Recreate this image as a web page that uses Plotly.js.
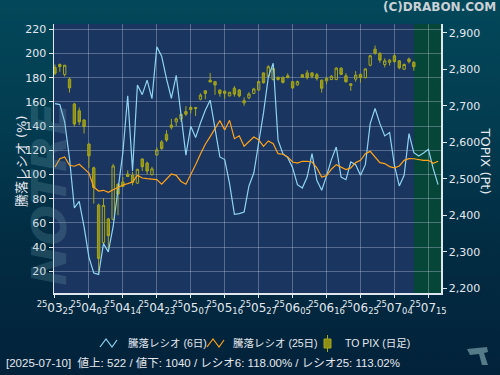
<!DOCTYPE html>
<html><head><meta charset="utf-8">
<script src="https://cdn.plot.ly/plotly-3.0.1.min.js"></script>
<style>
html,body{margin:0;padding:0;}
body{width:500px;height:375px;overflow:hidden;
background:linear-gradient(180deg,#03485a 0%,#033b50 35%,#022c42 65%,#02223a 100%);}
#chart{width:500px;height:375px;}
</style></head><body><div id="chart"></div>
<script>
// TOPIX daily candles (trading days 2025-03-25 .. 2025-07-10)
const topixOpen  = [2805,2813,2786,2773,2705,2686,2661,2595,2530,2428,2325,2390,2389,2485,2491,2513,2510,2488,2554,2543,2511,2565,2601,2622,2647,2656,2664,2684,2695,2695,2718,2741,2770,2766,2743,2740,2727,2748,2743,2714,2722,2734,2743,2790,2781,2772,2778,2778,2782,2766,2757,2785,2790,2790,2785,2770,2768,2772,2772,2803,2782,2760,2773,2786,2777,2811,2855,2844,2813,2819,2837,2823,2800,2828,2819];
const topixHigh  = [2813,2816,2812,2778,2708,2695,2663,2597,2533,2432,2447,2393,2541,2487,2505,2523,2519,2527,2556,2547,2533,2586,2606,2633,2664,2668,2679,2699,2700,2696,2734,2743,2790,2768,2745,2741,2738,2754,2746,2723,2737,2749,2769,2791,2811,2807,2780,2780,2789,2768,2769,2786,2798,2792,2790,2772,2780,2784,2806,2805,2789,2761,2795,2788,2802,2840,2865,2846,2830,2828,2842,2825,2816,2832,2822];
const topixLow   = [2784,2793,2780,2736,2643,2647,2624,2530,2432,2237,2319,2307,2386,2400,2477,2505,2482,2486,2521,2512,2509,2564,2579,2601,2635,2644,2656,2672,2679,2672,2715,2718,2765,2730,2725,2719,2726,2725,2723,2700,2718,2732,2741,2761,2778,2769,2769,2761,2775,2746,2755,2776,2772,2775,2769,2736,2759,2770,2770,2784,2763,2741,2766,2763,2775,2808,2840,2818,2805,2810,2818,2800,2798,2816,2796];
const topixClose = [2789,2807,2811,2749,2650,2656,2643,2563,2476,2282,2427,2344,2535,2458,2479,2506,2490,2526,2533,2521,2527,2579,2583,2606,2641,2664,2676,2677,2690,2693,2729,2734,2765,2757,2734,2734,2737,2732,2727,2708,2732,2746,2766,2763,2807,2802,2772,2764,2777,2749,2766,2778,2777,2781,2775,2748,2775,2781,2803,2786,2766,2756,2784,2777,2801,2837,2844,2825,2823,2825,2821,2804,2813,2821,2807];

// 騰落レシオ (6日) and (25日), %
const ratio6 = [158.6,157.8,143.4,113.1,72.3,77.8,56.6,31.7,18.5,17.4,42.8,36,57,86,118,165,103,174,166,178,162.7,205.5,197.8,179,163,182,148,116,139.8,130.5,142.6,153.1,161.4,138.7,114.5,112.3,92.4,67.0,67.6,69,90.5,101.2,126.9,150.9,180.7,192,128.3,117.2,113.9,105.6,91.6,88.8,97.9,117.2,95.2,86.9,98.8,112.3,122.7,97.9,95.7,110.3,108.1,99.3,108.1,142.0,154.5,142.0,131.9,134.6,107.6,90.5,99.3,133.8,118.0,115.3,117.8,120.8,104.8,91.6];
const ratio25 = [106.2,113.1,114.5,107.6,106.8,108.4,104.8,101.2,89.6,86.3,86.9,85.2,87.4,89.6,91.3,92.4,93.8,99.3,97.1,96.5,96.0,95.7,91.9,96,100.4,99.3,94.2,91.9,99.3,108,117,125,131.3,137.6,144.5,136.8,144.8,129.6,132,123.3,126.9,131.0,128.8,123.3,127.7,125.5,117.2,116.7,114.5,110.3,109.4,110.9,110.9,110.3,105.4,97.9,99.0,104.3,108.1,105.9,104.0,105.4,109.8,111.7,117.2,119.1,114.7,109.8,109.0,106.5,105.4,107.0,111.7,113.1,113.0,112.3,111.7,111.7,109.2,110.9];

// x-axis ticks (every 7 trading days) : yy, mm, dd
const tickYY = ["25","25","25","25","25","25","25","25","25","25","25","25"];
const tickMM = ["03","04","04","04","05","05","05","06","06","06","07","07"];
const tickDD = ["25","03","14","23","07","16","27","05","16","25","04","15"];
const tickStep = 7;

const leftTicks = [20,40,60,80,100,120,140,160,180,200,220];
const rightTicks = [2200,2300,2400,2500,2600,2700,2800,2900];

const legendNames = ['騰落レシオ (6日)', '騰落レシオ (25日)', 'TO PIX (日足)'];
const footerText = '[2025-07-10]  値上: 522 / 値下: 1040 / レシオ6: 118.00% / レシオ25: 113.02%';

const lastDataIdx = topixClose.length - 1;
const candleX = topixClose.map((_, i) => i);
const lineX = ratio6.map((_, i) => i);
const tickVals = tickDD.map((_, i) => i * tickStep);
const tickText = tickDD.map((d, i) => '<sup>' + tickYY[i] + '</sup>' + tickMM[i] + '<sub>' + d + '</sub>');

const XMAX = 79.6;
const F = 'DejaVu Sans, Noto Sans CJK JP, sans-serif';
const FN = 'Liberation Sans, Noto Sans CJK JP, sans-serif';
const txt = '#e4e9f0';
const olive = '#a6a61c';
const blue = '#8fd3f2', orange = '#ffa31a';

// margins: plot area 54..441 x 24..293 px
const ML = 54, MR = 59, MT = 24, MB = 82, W = 500, H = 375;
const PW = W - ML - MR, PH = H - MT - MB;
const px = v => (v - ML) / PW;
const py = v => (H - MB - v) / PH;
const pathPts = pts => 'M' + pts.map(p => px(p[0]).toFixed(4) + ',' + py(p[1]).toFixed(4)).join(' L');

const traces = [
  {type:'candlestick', x:candleX, open:topixOpen, high:topixHigh, low:topixLow, close:topixClose,
   xaxis:'x', yaxis:'y', name:legendNames[2], showlegend:false,
   increasing:{line:{color:olive,width:1}, fillcolor:'rgba(0,0,0,0)'},
   decreasing:{line:{color:olive,width:1}, fillcolor:'#8e8e14'},
   whiskerwidth:0, hoverinfo:'skip'},
  {type:'scatter', mode:'lines', x:lineX, y:ratio6, xaxis:'x', yaxis:'y2', showlegend:false,
   name:legendNames[0], line:{color:blue, width:1.2}, hoverinfo:'skip'},
  {type:'scatter', mode:'lines', x:lineX, y:ratio25, xaxis:'x', yaxis:'y2', showlegend:false,
   name:legendNames[1], line:{color:orange, width:1.2}, hoverinfo:'skip'}
];

const legY = 343;
const shapes = [
  {type:'rect', xref:'x', yref:'paper', x0:lastDataIdx, x1:XMAX, y0:0, y1:1,
   fillcolor:'#064638', line:{width:0}, layer:'below'},
  // legend icons
  {type:'path', xref:'paper', yref:'paper', path:pathPts([[100,347],[106,339],[112,347],[117,340]]),
   line:{color:blue, width:1.2}},
  {type:'path', xref:'paper', yref:'paper', path:pathPts([[207,347],[213,339],[219,347],[224,340]]),
   line:{color:orange, width:1.2}},
  {type:'line', xref:'paper', yref:'paper', x0:px(327.5), x1:px(327.5), y0:py(335), y1:py(352),
   line:{color:olive, width:1}},
  {type:'rect', xref:'paper', yref:'paper', x0:px(324), x1:px(331), y0:py(339), y1:py(348),
   fillcolor:'#8e8e14', line:{color:olive, width:1}},
  // small logo bottom right
  {type:'path', xref:'paper', yref:'paper',
   path:pathPts([[467,349],[487,347],[488,352],[484,353],[488,365],[482,365],[479,354],[470,355]]) + ' Z',
   fillcolor:'#557a88', line:{width:0}}
];

const layout = {
  width:W, height:H,
  margin:{l:ML, r:MR, t:MT, b:MB},
  paper_bgcolor:'rgba(0,0,0,0)', plot_bgcolor:'#1a355f',
  font:{family:F, color:txt, size:11},
  showlegend:false,
  xaxis:{range:[-0.2, XMAX], tickmode:'array', tickvals:tickVals, ticktext:tickText, tickangle:0,
         showgrid:true, gridcolor:'rgba(200,210,230,0.35)', gridwidth:1,
         showline:true, linecolor:'#dfe6ee', linewidth:1.5, ticks:'outside', ticklen:3, tickcolor:'#dfe6ee',
         tickfont:{family:F, size:12, color:txt}, zeroline:false, fixedrange:true, rangeslider:{visible:false}},
  yaxis:{side:'right', range:[2187, 2924], tickmode:'array', tickvals:rightTicks, tickformat:',',
         showgrid:false, zeroline:false, showline:true, linecolor:'#dfe6ee', linewidth:1.5,
         ticks:'outside', ticklen:4, tickcolor:'#dfe6ee', tickfont:{family:F, size:11, color:txt}},
  yaxis2:{overlaying:'y', side:'left', range:[2, 224.4], tickmode:'array', tickvals:leftTicks,
          showgrid:true, gridcolor:'rgba(200,210,230,0.35)', gridwidth:1, zeroline:false,
          showline:true, linecolor:'#dfe6ee', linewidth:1.5, ticks:'outside', ticklen:4, tickcolor:'#dfe6ee',
          tickfont:{family:F, size:11, color:txt}},
  shapes:shapes,
  annotations:[
    {text:'NOTRE', xref:'paper', yref:'paper', x:-0.09, y:0.37, showarrow:false, textangle:-90,
     font:{family:'DejaVu Sans', size:48, color:'rgba(110,160,175,0.26)', weight:'bold', style:'italic'}},
    {text:'騰落レシオ (%)', xref:'paper', yref:'paper', x:-0.11, y:0.49, showarrow:false, textangle:-90,
     font:{family:F, size:13, color:txt}},
    {text:'TOPIX (Pt)', xref:'paper', yref:'paper', x:1.14, y:0.49, showarrow:false, textangle:90,
     font:{family:F, size:13, color:txt}},
    {text:'<b>(C)DRABON.COM</b>', xref:'paper', yref:'paper', x:1.147, xanchor:'right', y:1.064, yanchor:'middle',
     showarrow:false, font:{family:'DejaVu Sans', size:12, color:'#c9d0d6'}},
    {text:legendNames[0], xref:'paper', yref:'paper', x:px(126), xanchor:'left', y:py(legY), yanchor:'middle',
     showarrow:false, font:{family:FN, size:10.5, color:txt}},
    {text:legendNames[1], xref:'paper', yref:'paper', x:px(231), xanchor:'left', y:py(legY), yanchor:'middle',
     showarrow:false, font:{family:FN, size:10.5, color:txt}},
    {text:legendNames[2], xref:'paper', yref:'paper', x:px(343), xanchor:'left', y:py(legY), yanchor:'middle',
     showarrow:false, font:{family:FN, size:10.5, color:txt}},
    {text:footerText, xref:'paper', yref:'paper', x:px(4), xanchor:'left', y:py(363), yanchor:'middle',
     showarrow:false, font:{family:FN, size:11.5, color:txt}}
  ]
};

Plotly.newPlot('chart', traces, layout, {staticPlot:true, displayModeBar:false});
</script></body></html>
